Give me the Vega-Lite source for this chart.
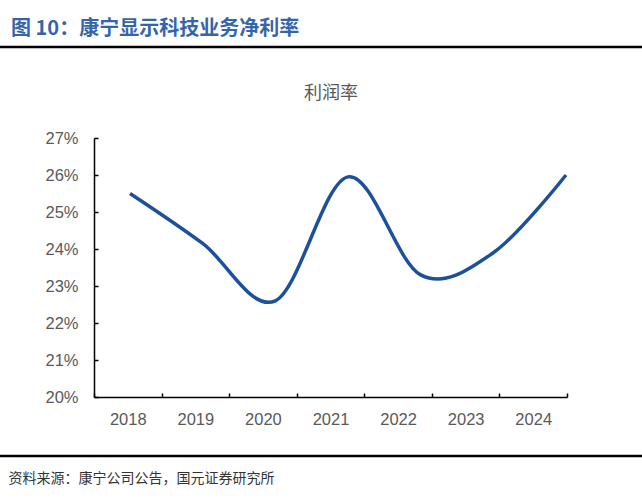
{
  "$schema": "https://vega.github.io/schema/vega-lite/v6.json",
  "autosize": "none",
  "width": 473,
  "height": 259,
  "padding": {"left": 94, "top": 138, "right": 75, "bottom": 101},
  "background": "white",
  "config": {
    "view": {"stroke": null},
    "font": "Liberation Sans",
    "axisY": {"values": [0.2, 0.21, 0.22, 0.23, 0.24, 0.25, 0.26, 0.27], "format": ".0%",
              "grid": false, "domainColor": "#000000", "domainWidth": 1.5, "tickColor": "#000000",
              "tickSize": -4, "tickWidth": 1.5, "labelFontSize": 16.5, "labelColor": "#595959",
              "labelPadding": 20, "title": null}
  },
  "title": {
    "text": "图 10：康宁显示科技业务净利率",
    "anchor": "start",
    "frame": "group",
    "dx": -83,
    "offset": 7,
    "font": "Noto Sans CJK SC",
    "fontSize": 20,
    "fontWeight": "bold",
    "color": "#3465AA"
  },
  "data": {
    "values": [
      {"year": 2018, "rate": 0.255},
      {"year": 2019, "rate": 0.2415},
      {"year": 2020, "rate": 0.226},
      {"year": 2021, "rate": 0.2595},
      {"year": 2022, "rate": 0.233},
      {"year": 2023, "rate": 0.239},
      {"year": 2024, "rate": 0.260}
    ]
  },
  "layer": [
    {
      "layer": [
        {
          "mark": {"type": "line", "interpolate": "cardinal", "tension": 0, "color": "#1C509C", "strokeWidth": 3.5},
          "encoding": {
            "x": {
              "field": "year", "type": "quantitative",
              "scale": {"domain": [2017.5046, 2024.0138], "nice": false, "zero": false},
              "axis": {"orient": "top", "domain": false, "ticks": false, "labels": false, "grid": false,
                       "title": "利润率", "titlePadding": 36, "titleFont": "Noto Sans CJK SC",
                       "titleFontSize": 18, "titleFontWeight": "normal", "titleColor": "#595959"}
            },
            "y": {
              "field": "rate", "type": "quantitative",
              "scale": {"domain": [0.2, 0.27], "nice": false, "zero": false},
              "title": null
            }
          }
        },
        {
          "data": {"values": [{"pos": 0.29459}, {"pos": 0.18405}]},
          "mark": {"type": "rule", "color": "#000000", "strokeWidth": 2.5},
          "encoding": {
            "y": {"field": "pos", "type": "quantitative", "title": null},
            "x": {"datum": 2016.2, "type": "quantitative"},
            "x2": {"datum": 2025.1}
          }
        }
      ]
    },
    {
      "mark": {"type": "point", "opacity": 0, "size": 0},
      "encoding": {
        "x": {
          "field": "year", "type": "ordinal",
          "scale": {"paddingInner": 0, "paddingOuter": 0},
          "axis": {"orient": "bottom", "tickBand": "extent", "labelAngle": 0, "domainColor": "#000000",
                   "domainWidth": 1.5, "tickColor": "#000000", "tickSize": -4, "tickWidth": 1.5,
                   "labelFontSize": 16.5, "labelColor": "#595959", "labelPadding": 18,
                   "title": "资料来源：康宁公司公告，国元证券研究所", "titleAnchor": "start",
                   "titleX": -86, "titleY": 81, "titleBaseline": "middle", "titleAlign": "left",
                   "titleFont": "Noto Sans CJK SC", "titleFontSize": 14, "titleFontWeight": "normal",
                   "titleColor": "#333333"}
        },
        "y": {"field": "rate", "type": "quantitative", "title": null}
      }
    }
  ],
  "resolve": {"scale": {"x": "independent"}}
}
